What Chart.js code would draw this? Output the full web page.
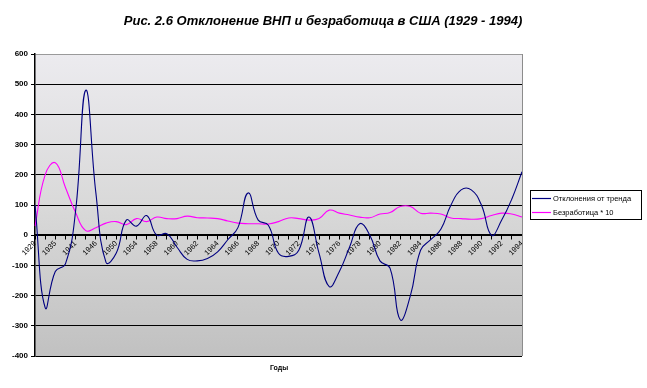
<!DOCTYPE html>
<html>
<head>
<meta charset="utf-8">
<script src="https://cdn.jsdelivr.net/npm/chart.js@4.4.0/dist/chart.umd.min.js"></script>
<style>
html,body{margin:0;padding:0;background:#fff;}
canvas{display:block;}
</style>
</head>
<body>
<canvas id="c" width="647" height="388"></canvas>
<script>
const titleText = "Рис. 2.6 Отклонение ВНП и безработица в США (1929 - 1994)";
const xTitle = "Годы";
const years = ["1929","1932","1935","1938","1941","1944","1946","1948","1950","1952","1954","1956",
  "1958","1959","1960","1961","1962","1963","1964","1965","1966","1967","1968","1969","1970",
  "1971","1972","1973","1974","1975","1976","1977","1978","1979","1980","1981","1982","1983",
  "1984","1985","1986","1987","1988","1989","1990","1991","1992","1993","1994"];
const seriesNames = ["Отклонения от тренда", "Безработица * 10"];
const gnpDeviation = [100,-240,-120,-95,80,480,140,-90,-60,50,30,65,0,5,-40,-80,-85,-77,-55,-15,25,140,50,33,-60,
  -70,-50,60,-60,-170,-120,-40,38,0,-85,-110,-280,-200,-50,-15,20,100,150,150,100,0,50,120,210];
const unemployment10 = [30,200,240,158,75,15,25,40,45,35,55,45,60,55,55,63,58,57,55,47,40,38,38,37,45,
  57,55,50,55,83,73,67,60,58,70,75,95,95,73,73,70,57,55,53,55,65,73,70,60];
const yTicks = [600,500,400,300,200,100,0,-100,-200,-300,-400];

const bgPlugin = {
  id: 'bg',
  beforeDraw(chart) {
    const {ctx, chartArea: a} = chart;
    const g = ctx.createLinearGradient(0, a.top, 0, a.bottom);
    g.addColorStop(0, '#ecebef');
    g.addColorStop(0.5, '#d9d9d9');
    g.addColorStop(1, '#c1c1c1');
    ctx.save();
    ctx.fillStyle = g;
    ctx.fillRect(a.left, a.top, a.right - a.left, a.bottom - a.top);
    ctx.restore();
  },
  afterDraw(chart) {
    const {ctx, chartArea: a} = chart;
    ctx.save();
    ctx.strokeStyle = '#8c8c8c';
    ctx.lineWidth = 1;
    ctx.beginPath();
    ctx.moveTo(a.right + 0.5, a.top);
    ctx.lineTo(a.right + 0.5, a.bottom);
    ctx.stroke();
    ctx.fillStyle = '#000';
    ctx.font = 'italic bold 13px "Liberation Sans", Arial, sans-serif';
    ctx.textAlign = 'center';
    ctx.textBaseline = 'middle';
    ctx.fillText(titleText, 323, 21);
    ctx.font = 'bold 7px "Liberation Sans", Arial, sans-serif';
    ctx.fillText(xTitle, 279, 368);
    const lx = 530, ly = 190, lw = 111, lh = 29;
    ctx.fillStyle = '#fff';
    ctx.fillRect(lx, ly, lw, lh);
    ctx.strokeStyle = '#000';
    ctx.strokeRect(lx + 0.5, ly + 0.5, lw, lh);
    ctx.font = '7.5px "Liberation Sans", Arial, sans-serif';
    ctx.textAlign = 'left';
    chart.data.datasets.forEach((ds, i) => {
      const y = ly + 8 + i * 14;
      ctx.strokeStyle = ds.borderColor;
      ctx.lineWidth = 1.2;
      ctx.beginPath();
      ctx.moveTo(lx + 2, y + 0.5);
      ctx.lineTo(lx + 21, y + 0.5);
      ctx.stroke();
      ctx.fillStyle = '#000';
      ctx.fillText(ds.label, lx + 23, y + 0.5);
    });
    ctx.restore();
  }
};

new Chart(document.getElementById('c'), {
  type: 'line',
  data: {
    labels: years,
    datasets: [
      {label: seriesNames[0], data: gnpDeviation, borderColor: '#000080', borderWidth: 1.1,
       pointRadius: 0, tension: 0.45, fill: false},
      {label: seriesNames[1], data: unemployment10, borderColor: '#ff00ff', borderWidth: 1.1,
       pointRadius: 0, tension: 0.45, fill: false}
    ]
  },
  options: {
    responsive: false,
    animation: false,
    devicePixelRatio: 1,
    layout: {padding: {left: 0, right: 125, top: 54, bottom: 32}},
    plugins: {
      legend: {display: false},
      tooltip: {enabled: false},
      title: {display: false}
    },
    scales: {
      x: {
        type: 'category',
        position: {y: 0},
        offset: false,
        grid: {display: true, drawOnChartArea: false, drawTicks: true, tickLength: 4, color: '#000', tickColor: '#000'},
        border: {display: true, color: '#000', width: 1.5},
        ticks: {
          autoSkip: false, maxRotation: 45, minRotation: 45, padding: 0,
          color: '#000',
          font: {family: '"Liberation Sans", Arial, sans-serif', size: 7.5},
          callback(v, i) { return i % 2 === 0 ? this.getLabelForValue(v) : ''; }
        }
      },
      y: {
        min: -400, max: 600,
        afterFit(s) { s.width = 35; },
        afterBuildTicks(s) { s.ticks = yTicks.map(v => ({value: v})); },
        grid: {
          color: (c) => c.tick && c.tick.value === 600 ? '#9a9a9a' : '#000',
          lineWidth: 1, tickLength: 4, tickColor: '#000'
        },
        border: {display: true, color: '#000', width: 1.5},
        ticks: {
          color: '#000', padding: 3,
          font: {family: '"Liberation Sans", Arial, sans-serif', size: 8, weight: 'bold'}
        }
      }
    }
  },
  plugins: [bgPlugin]
});
</script>
</body>
</html>
